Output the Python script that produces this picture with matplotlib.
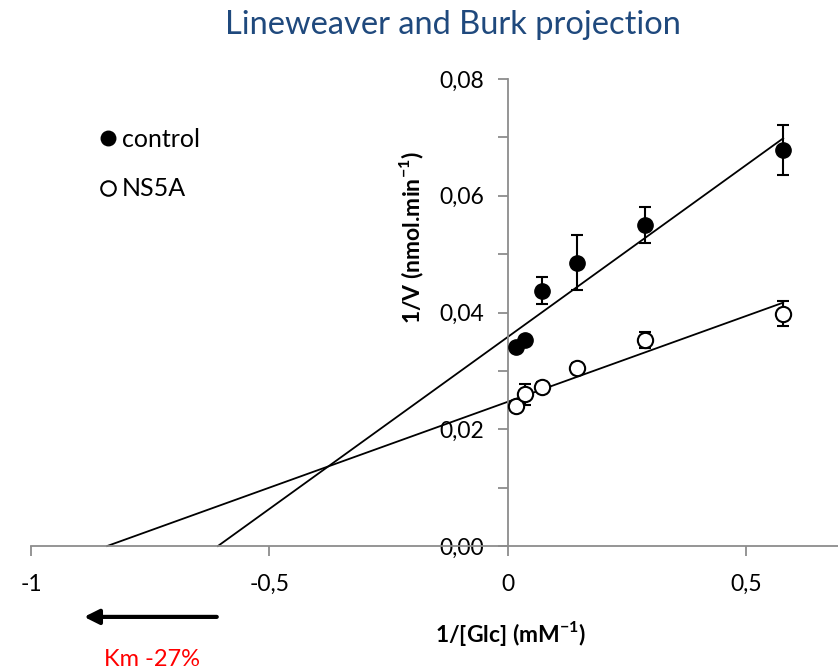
import numpy as np
import matplotlib
matplotlib.use("Agg")
import matplotlib.pyplot as plt
from matplotlib.ticker import FuncFormatter, MultipleLocator

plt.rcParams['font.family'] = ['Lato', 'DejaVu Sans']

# 1/[Glc] (mM^-1)
x_inv_glc = [0.018, 0.036, 0.072, 0.1445, 0.289, 0.578]

# 1/V values and error bars
control_y = [0.0341, 0.0353, 0.0437, 0.0485, 0.0550, 0.0678]
control_err = [0.0006, 0.0006, 0.0023, 0.0047, 0.0031, 0.0043]
ns5a_y = [0.0239, 0.0260, 0.0273, 0.0305, 0.0353, 0.0398]
ns5a_err = [0.0008, 0.0018, 0.0008, 0.0008, 0.0013, 0.0021]

# trend lines (slope, intercept)
control_fit = (0.0589, 0.0358)
ns5a_fit = (0.0294, 0.0247)

series_labels = ['control', 'NS5A']
km_text = 'Km -27%'

fig = plt.figure(figsize=(8.38, 6.72), dpi=100)
ax = fig.add_axes([0.037, 0.1875, 0.967, 0.6949])
ax.set_xlim(-1, 0.7)
ax.set_ylim(0, 0.08)

# trend lines from x-intercept to the last point
for (m, b) in (control_fit, ns5a_fit):
    x0 = -b / m
    xs = np.array([x0, max(x_inv_glc)])
    ax.plot(xs, m * xs + b, color='black', lw=1.3, zorder=2, clip_on=False)

ax.errorbar(x_inv_glc, control_y, yerr=control_err, fmt='none', ecolor='black',
            elinewidth=1.5, capsize=4.5, capthick=1.5, zorder=3, clip_on=False)
ax.errorbar(x_inv_glc, ns5a_y, yerr=ns5a_err, fmt='none', ecolor='black',
            elinewidth=1.5, capsize=4.5, capthick=1.5, zorder=3, clip_on=False)
h1, = ax.plot(x_inv_glc, control_y, 'o', ms=11, mfc='black', mec='black',
              label=series_labels[0], zorder=4, clip_on=False)
h2, = ax.plot(x_inv_glc, ns5a_y, 'o', ms=11, mfc='white', mec='black', mew=1.5,
              label=series_labels[1], zorder=4, clip_on=False)

# axes crossing at the origin
ax.spines['left'].set_position(('data', 0))
ax.spines['bottom'].set_position(('data', 0))
ax.spines['top'].set_visible(False)
ax.spines['right'].set_visible(False)
for s in ('left', 'bottom'):
    ax.spines[s].set_color('#8c8c8c')
    ax.spines[s].set_linewidth(1.3)

comma = FuncFormatter(lambda v, p: ('%g' % v).replace('.', ','))
ax.xaxis.set_major_locator(MultipleLocator(0.5))
ax.xaxis.set_major_formatter(comma)
ax.yaxis.set_major_locator(MultipleLocator(0.02))
ax.yaxis.set_minor_locator(MultipleLocator(0.01))
ax.yaxis.set_major_formatter(FuncFormatter(lambda v, p: ('%.2f' % v).replace('.', ',')))
ax.tick_params(axis='both', which='both', direction='out', length=7, width=1.3,
               color='#8c8c8c', labelsize=16.5)
ax.tick_params(axis='x', pad=13)
ax.tick_params(axis='y', pad=10)

ax.set_xlabel('1/[Glc] (mM$^{\\mathregular{-1}}$)', fontsize=16.5, fontweight='bold')
ax.set_ylabel('1/V (nmol.min$^{\\mathregular{-1}}$)', fontsize=16.5, fontweight='bold')
ax.yaxis.set_label_coords(0.488, 0.66)
ax.xaxis.set_label_coords(0.592, -0.157)

fig.text(0.54, 0.963, 'Lineweaver and Burk projection', ha='center', va='center',
         fontsize=23.5, color='#1F497D')

ax.legend(handles=[h1, h2], loc='upper left', bbox_to_anchor=(0.093, 0.843),
          bbox_transform=fig.transFigure, frameon=False, fontsize=18,
          handlelength=0.6, handletextpad=0.25, labelspacing=1.05, markerscale=0.95)

ax.annotate('', xy=(0.097, 0.082), xytext=(0.262, 0.082), xycoords='figure fraction',
            arrowprops=dict(arrowstyle='-|>', color='black', lw=3,
                            mutation_scale=22))
fig.text(0.181, 0.018, km_text, ha='center', va='center', fontsize=17, color='red')

fig.savefig('out.png', dpi=100)
